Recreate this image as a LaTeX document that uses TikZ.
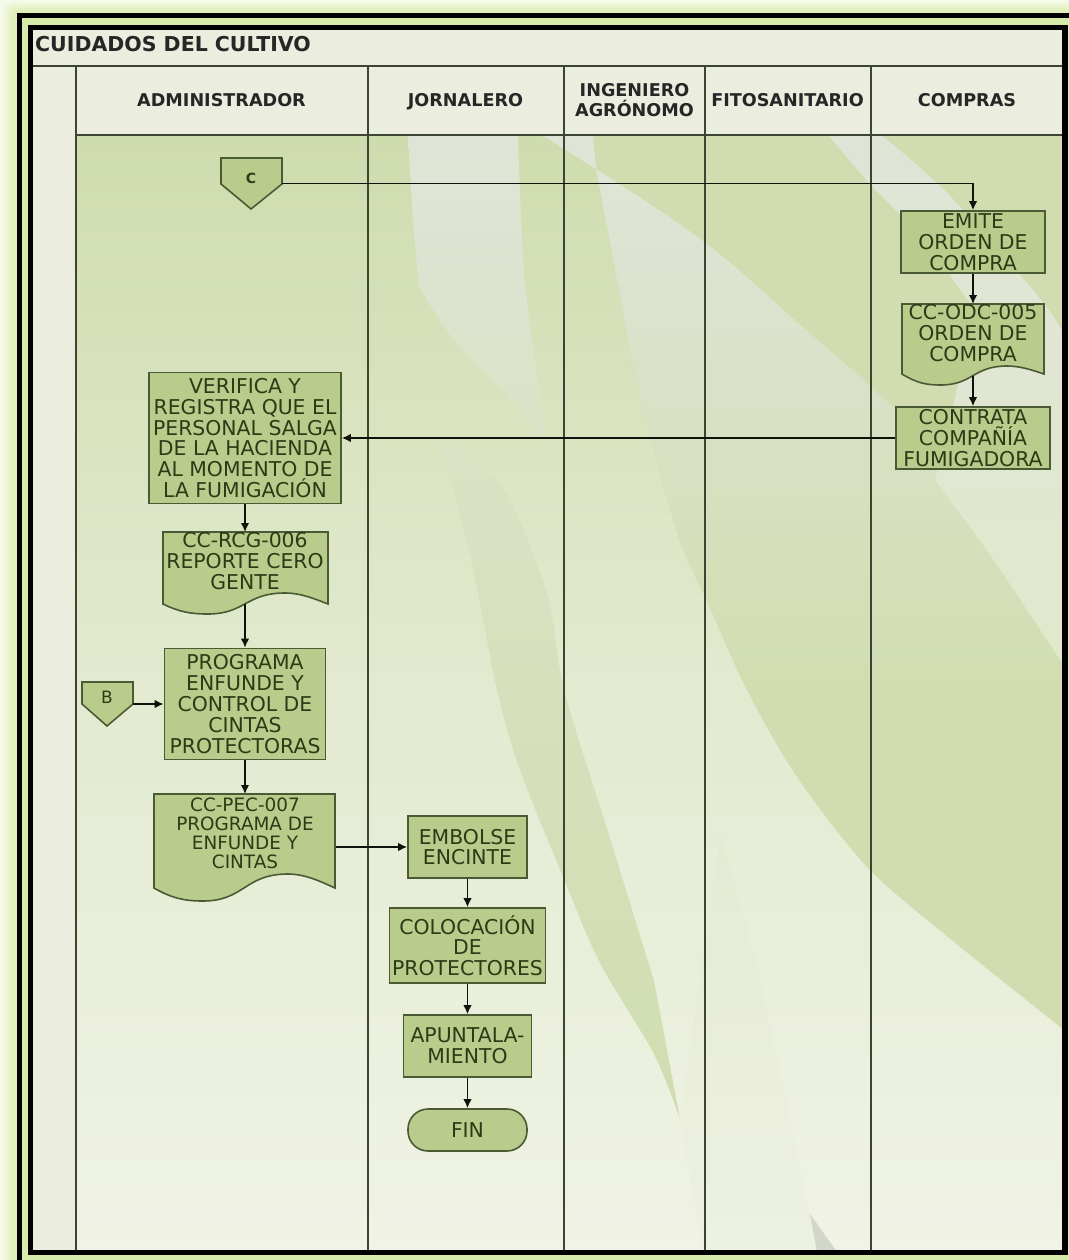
\documentclass[tikz,border=0pt]{standalone}
\usepackage{fontspec}
\setmainfont{DejaVu Sans}
\usetikzlibrary{arrows.meta,positioning,calc}
\definecolor{glow}{HTML}{E0F0BC}
\definecolor{gap}{HTML}{D6EAAA}
\definecolor{band}{HTML}{EBEEDF}
\definecolor{lane}{HTML}{3B4530}
\definecolor{boxfill}{HTML}{B9CC8C}
\definecolor{boxline}{HTML}{4A5A35}
\definecolor{ink}{HTML}{2C3B16}
\definecolor{deep}{HTML}{D1DDB0}
\definecolor{pale}{HTML}{E0E4D7}
\definecolor{basetop}{HTML}{CFDCAE}
\definecolor{basemid}{HTML}{E3EAD0}
\definecolor{basebot}{HTML}{F0F3E5}
\definecolor{fadepale}{HTML}{D9E2C4}
\tikzset{
  procbox/.style={draw=boxline,line width=1.6pt,fill=boxfill,text=ink,align=center,inner sep=0pt,
    font=\fontsize{20.4}{20.8}\selectfont},
  shapeanchor/.style={inner sep=0pt,outer sep=0pt},
  doctext/.style={text=ink,align=center,inner sep=0pt,font=\fontsize{20.4}{20.8}\selectfont},
  smalldoctext/.style={text=ink,align=center,inner sep=0pt,font=\fontsize{18.4}{19}\selectfont},
  shapeline/.style={draw=boxline,line width=1.6pt,fill=boxfill},
  headtext/.style={text=black!85,align=center,inner sep=0pt,font=\fontsize{17.6}{20}\selectfont\bfseries},
  flow/.style={draw=black!80!boxline,line width=1.6pt,-{Latex[length=9pt,width=8.5pt]}},
  laneline/.style={draw=lane,line width=2pt},
  frameline/.style={draw=black,line width=5.5pt}
}
\newcommand{\wavedoc}[6]{%
  \pgfmathsetmacro\wvw{#3-#1}%
  \pgfmathsetmacro\wva{#1+.10*\wvw}\pgfmathsetmacro\wvb{#1+.17*\wvw}\pgfmathsetmacro\wvc{#1+.27*\wvw}%
  \pgfmathsetmacro\wvd{#1+.50*\wvw}\pgfmathsetmacro\wve{#1+.74*\wvw}\pgfmathsetmacro\wvf{#1+.84*\wvw}%
  \pgfmathsetmacro\wvg{#1+.93*\wvw}%
  \pgfmathsetmacro\wvl{#4+#5}\pgfmathsetmacro\wvm{#4+.8*#5}\pgfmathsetmacro\wvh{#4-#6}\pgfmathsetmacro\wvn{#4-.4*#6}%
  \path[shapeline] (#1,#2) -- (#1,#4) .. controls (\wva,\wvm) and (\wvb,\wvl) .. (\wvc,\wvl)
    .. controls (\wvd,\wvl) and (\wvd,\wvh) .. (\wve,\wvh)
    .. controls (\wvf,\wvh) and (\wvg,\wvn) .. (#3,#4) -- (#3,#2) -- cycle;%
}
\begin{document}
\begin{tikzpicture}[x=1pt,y=-1pt]
\useasboundingbox (0,0) rectangle (1068,1260);
\fill[white] (0,0) rectangle (1068,1260);
% outer glow
\fill[glow!30!white] (0,0) rectangle (1068,14);
\foreach \i in {0,...,16}{
  \pgfmathsetmacro\gl{min(100,25+\i*6)}
  \fill[glow!\gl!white,rounded corners=8pt] ({\i},{\i*0.8}) rectangle (1100,1300);
}
% frames
\fill[gap] (17,13) rectangle (1068,1260);
\draw[frameline] (19.5,1265) -- (19.5,15.5) -- (1072,15.5);
\fill[band] (33,30) rectangle (1062,1250);
% main area
\shade[top color=basetop,bottom color=basebot,middle color=basemid]
   (76,135) rectangle (1062,1250);
\begin{scope}
\clip (76,135) rectangle (1062,1250);
% large right swoosh
\fill[deep] plot[smooth] coordinates {(593,135) (609,237) (636,380) (654,451) (680,541) (707,601) (747,690) (797,777) (868,868) (948,937) (1064,1030)}
   -- (1064,135) -- cycle;
% pale diagonal
\shade[top color=pale,bottom color=deep]
   plot[smooth] coordinates {(596,169) (707,244) (814,337) (868,384) (935,450) (993,545) (1064,666)}
   -- (1064,700) -- (760,700)
   -- plot[smooth] coordinates {(747,690) (707,601) (680,541) (654,451) (636,380) (609,237) (596,169)} -- cycle;
\fill[pale] (542,135) -- (593,135) -- (596,169) -- cycle;
% pale right band
\shade[top color=pale,bottom color=white!35!deep]
   plot[smooth] coordinates {(828,135) (870,184) (921,237) (975,310)}
   -- (950,420) -- plot[smooth] coordinates {(935,480) (993,559) (1064,666)}
   -- plot[smooth] coordinates {(1064,335) (1042,301) (948,194) (881,135)} -- cycle;
% pale central band
\shade[top color=pale,bottom color=fadepale]
   plot[smooth] coordinates {(408,135) (413,220) (419,287)}
   -- plot[smooth] coordinates {(419,287) (457,344) (520,409) (564,470)}
   -- plot[smooth] coordinates {(547,451) (538,380) (524,273) (518,135)} -- cycle;
% tapering band
\shade[top color=fadepale,middle color=deep,bottom color=deep]
   plot[smooth] coordinates {(439,441) (471,559) (497,690) (520,770) (564,879) (600,963) (654,1054) (680,1119)}
   -- plot[smooth] coordinates {(654,981) (609,835) (564,690) (547,594) (502,487) (439,441)} -- cycle;
% faint lower band
\fill[deep,opacity=.07] plot[smooth] coordinates {(720,835) (760,980) (814,1235)}
   -- (840,1252) -- (703,1252) -- (680,1119) -- cycle;
% small wedge
\fill[black!6!pale] (810,1214) -- (837,1252) -- (817,1252) -- cycle;
\end{scope}
% lane lines
\draw[laneline] (33,66.5) -- (1062,66.5);
\draw[laneline] (76,135) -- (1062,135);
\foreach \lx in {76,368,564,705,871}{\draw[laneline] (\lx,66.5) -- (\lx,1250);}
\draw[frameline] (30.5,1252.5) -- (30.5,27.5) -- (1065,27.5) -- (1065,1252.5) -- cycle;
% headers
\node[headtext,anchor=base west,font=\fontsize{20.5}{22}\selectfont\bfseries] (title) at (35,52) {CUIDADOS DEL CULTIVO};
\node[headtext,anchor=base] (hadm) at (221.5,106.5) {ADMINISTRADOR};
\node[headtext,anchor=base] (hjor) at (465.5,106.5) {JORNALERO};
\node[headtext] (hing) at (634.5,100) {INGENIERO\\AGRÓNOMO};
\node[headtext,anchor=base] (hfit) at (787.5,106.5) {FITOSANITARIO};
\node[headtext,anchor=base] (hcom) at (967,106.5) {COMPRAS};
% off-page connectors
\path[shapeline] (221,158) -- (282,158) -- (282,184) -- (251,209) -- (221,184) -- cycle;
\node[shapeanchor,minimum width=61pt,minimum height=51pt] (cc) at (251.5,183.5) {};
\node[text=ink,inner sep=0pt,font=\fontsize{14}{15}\selectfont\bfseries] (cclabel) at (251,178) {C};
\path[shapeline] (82,682) -- (133,682) -- (133,704) -- (107,726) -- (82,704) -- cycle;
\node[shapeanchor,minimum width=51pt,minimum height=44pt] (bb) at (107.5,704) {};
\node[text=ink,inner sep=0pt,font=\fontsize{17}{18}\selectfont] (bblabel) at (107,697) {B};
% compras
\node[procbox,minimum width=144pt,minimum height=62pt] (emite) at (973,242) {EMITE\\ORDEN DE\\COMPRA};
\wavedoc{902}{304}{1044}{374}{11}{8}
\node[shapeanchor,minimum width=142pt,minimum height=72pt] (odc) at (973,340) {};
\node[doctext] (odctext) at (973,333) {CC-ODC-005\\ORDEN DE\\COMPRA};
\node[procbox,minimum width=154pt,minimum height=62pt] (contrata) at (973,438) {CONTRATA\\COMPAÑÍA\\FUMIGADORA};
% administrador
\node[procbox,minimum width=192pt,minimum height=131pt] (verif) at (245,438) {VERIFICA Y\\REGISTRA QUE EL\\PERSONAL SALGA\\DE LA HACIENDA\\AL MOMENTO DE\\LA FUMIGACIÓN};
\wavedoc{163}{532}{328}{604}{10}{11}
\node[shapeanchor,minimum width=165pt,minimum height=72pt] (rcg) at (245,568) {};
\node[doctext] (rcgtext) at (245,561) {CC-RCG-006\\REPORTE CERO\\GENTE};
\node[procbox,minimum width=161pt,minimum height=111pt] (prog) at (245,704) {PROGRAMA\\ENFUNDE Y\\CONTROL DE\\CINTAS\\PROTECTORAS};
\wavedoc{154}{794}{335}{888}{13}{14}
\node[shapeanchor,minimum width=181pt,minimum height=106pt] (pec) at (245,847) {};
\node[smalldoctext] (pectext) at (245,833) {CC-PEC-007\\PROGRAMA DE\\ENFUNDE Y\\CINTAS};
% jornalero
\node[procbox,minimum width=119pt,minimum height=62pt] (emb) at (467.5,847) {EMBOLSE\\ENCINTE};
\node[procbox,minimum width=156pt,minimum height=75pt] (col) at (467.5,945.5) {COLOCACIÓN\\DE\\PROTECTORES};
\node[procbox,minimum width=128pt,minimum height=62pt] (apu) at (467.5,1046) {APUNTALA-\\MIENTO};
\node[procbox,rounded corners=20pt,minimum width=119pt,minimum height=42pt] (fin) at (467.5,1130) {FIN};
% connectors
\draw[flow] (cc.east) -| (emite.north);
\draw[flow] (emite.south) -- (odc.north);
\draw[flow] (odc.south) -- (contrata.north);
\draw[flow] (contrata.west) -- (verif.east);
\draw[flow] (verif.south) -- (rcg.north);
\draw[flow] (rcg.south) -- (prog.north);
\draw[flow] (bb.east) -- (prog.west);
\draw[flow] (prog.south) -- (pec.north);
\draw[flow] (pec.east) -- (emb.west);
\draw[flow] (emb.south) -- (col.north);
\draw[flow] (col.south) -- (apu.north);
\draw[flow] (apu.south) -- (fin.north);
\end{tikzpicture}
\end{document}
